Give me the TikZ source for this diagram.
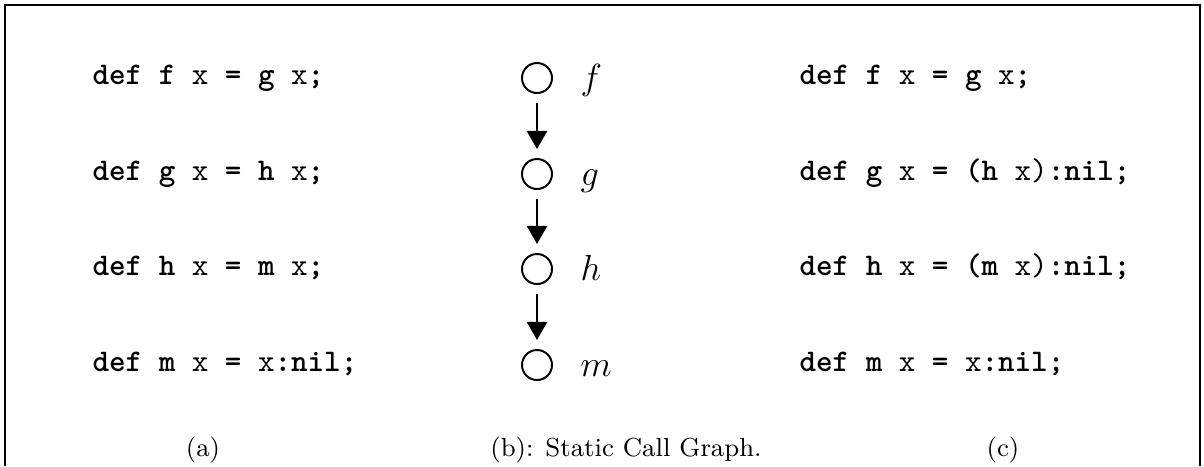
\documentclass[tikz,border=0pt]{standalone}
\usetikzlibrary{arrows.meta}
\newcommand\kb[1]{\textbf{#1}}
\tikzset{
  x=0.33pt, y=-0.33pt,
  code/.style={anchor=base west, inner sep=0pt, font=\fontsize{10.4}{12}\selectfont\ttfamily},
  vtx/.style={circle, draw, line width=0.65pt, minimum size=30*0.33pt, inner sep=0pt},
  vlab/.style={anchor=base west, inner sep=0pt, font=\fontsize{12.5}{14}\selectfont},
  captext/.style={anchor=base, inner sep=0pt, font=\fontsize{8.6}{10}\selectfont},
  arr/.style={line width=0.45pt, -{Triangle[width=6.8pt,length=6pt]}, shorten <=3pt, shorten >=3pt},
  frame/.style={line width=0.7pt}
}
\begin{document}
\begin{tikzpicture}
\useasboundingbox (0,0) rectangle (1204,466);
% frame (open at bottom)
\coordinate (bl) at (5,466);
\coordinate (tl) at (5,5);
\coordinate (tr) at (1200,5);
\coordinate (br) at (1200,466);
\draw[frame] (bl) -- (tl) -- (tr) -- (br);
% left column
\node[code] (a1) at (92,84)  {\kb{def f} x \kb{=} \kb{g} x\kb{;}};
\node[code] (a2) at (92,180) {\kb{def g} x \kb{=} \kb{h} x\kb{;}};
\node[code] (a3) at (92,275) {\kb{def h} x \kb{=} \kb{m} x\kb{;}};
\node[code] (a4) at (92,371) {\kb{def m} x \kb{=} x\kb{:nil;}};
% call graph
\node[vtx] (cf) at (537,78)  {};
\node[vtx] (cg) at (537,174) {};
\node[vtx] (ch) at (537,269) {};
\node[vtx] (cm) at (537,365) {};
\node[vlab] (lf) at (580,89)  {$f$};
\node[vlab] (lg) at (580,185) {$g$};
\node[vlab] (lh) at (580,280) {$h$};
\node[vlab] (lm) at (580,376) {$m$};
\draw[arr] (cf) -- (cg);
\draw[arr] (cg) -- (ch);
\draw[arr] (ch) -- (cm);
% right column
\node[code] (c1) at (799,84)  {\kb{def f} x \kb{=} \kb{g} x\kb{;}};
\node[code] (c2) at (799,180) {\kb{def g} x \kb{=} \kb{(h} x)\kb{:nil;}};
\node[code] (c3) at (799,275) {\kb{def h} x \kb{=} \kb{(m} x)\kb{:nil;}};
\node[code] (c4) at (799,371) {\kb{def m} x \kb{=} x\kb{:nil;}};
% captions
\node[captext] (capa) at (203,456) {(a)};
\node[captext] (capb) at (626,456) {(b): Static Call Graph.};
\node[captext] (capc) at (1003,456) {(c)};
\end{tikzpicture}
\end{document}
